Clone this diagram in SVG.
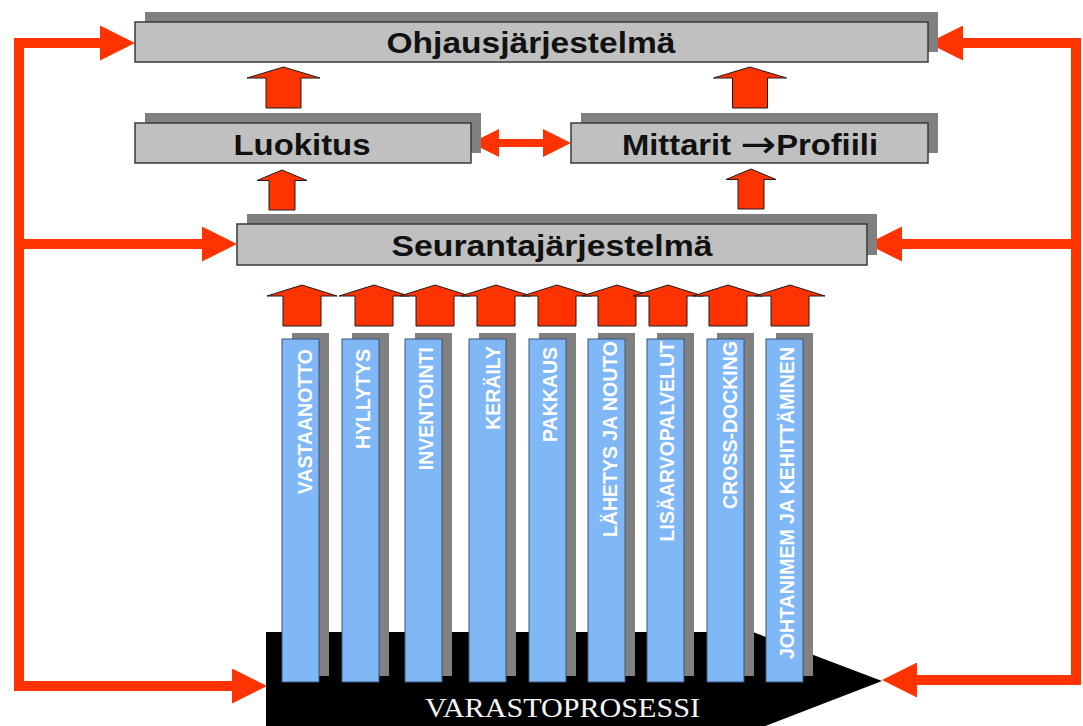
<svg xmlns="http://www.w3.org/2000/svg" width="1083" height="726" viewBox="0 0 1083 726">
<style>
.shadow{fill:#808080}
.box{fill:#c0c0c0;stroke:#3a3a3a;stroke-width:1.5}
.lbl{font-family:"Liberation Sans",Arial,sans-serif;font-weight:bold;font-size:29px;fill:#111;text-anchor:middle}
.sym{font-family:"DejaVu Sans",sans-serif;font-weight:normal;font-size:38px}
.bar{fill:#7fb7f7;stroke:#3e5578;stroke-width:1}
.bartxt{font-family:"Liberation Sans",Arial,sans-serif;font-weight:bold;font-size:19.5px;fill:#ffffff;text-anchor:end}
.blk{fill:#ff3300;stroke:#1a1a1a;stroke-width:1}
.conn{fill:none;stroke:#ff3300;stroke-width:10;stroke-linejoin:miter}
.conn2{fill:none;stroke:#ff3300;stroke-width:8}
</style>
<defs>
<marker id="ah" markerUnits="userSpaceOnUse" viewBox="0 0 35 35" markerWidth="35" markerHeight="35" refX="0" refY="17.5" orient="auto-start-reverse">
<path d="M0,0 L35,17.5 L0,35 Z" fill="#ff3300"/>
</marker>
<marker id="ahs" markerUnits="userSpaceOnUse" viewBox="0 0 28 28" markerWidth="28" markerHeight="28" refX="0" refY="14" orient="auto-start-reverse">
<path d="M0,0 L28,14 L0,28 Z" fill="#ff3300"/>
</marker>
<path id="upBig" d="M0,0 L36.5,11 L17.5,11 L17.5,41 L-17.5,41 L-17.5,11 L-36.5,11 Z"/>
<path id="upMid" d="M0,0 L25,10.5 L13,10.5 L13,40 L-13,40 L-13,10.5 L-25,10.5 Z"/>
<path id="upBar" d="M0,0 L35,11 L19,11 L19,41 L-19,41 L-19,11 L-35,11 Z"/>
</defs>
<rect width="1083" height="726" fill="#ffffff"/>

<g id="connectors">
<path class="conn" d="M100,43 H19 V686 H232" marker-start="url(#ah)" marker-end="url(#ah)"/>
<path class="conn" d="M19,244 H202" marker-end="url(#ah)"/>
<path class="conn" d="M963,43 H1076 V680 H917" marker-start="url(#ah)" marker-end="url(#ah)"/>
<path class="conn" d="M1076,244 H902" marker-end="url(#ah)"/>
<path class="conn2" d="M499,143 H543" marker-start="url(#ahs)" marker-end="url(#ahs)"/>
<use href="#upBig" class="blk" x="283.5" y="67"/>
<use href="#upBig" class="blk" x="750" y="67"/>
<use href="#upMid" class="blk" x="282" y="170"/>
<use href="#upMid" class="blk" x="751" y="169"/>
<use href="#upBar" class="blk" x="302" y="285"/>
<use href="#upBar" class="blk" x="374" y="285"/>
<use href="#upBar" class="blk" x="435" y="285"/>
<use href="#upBar" class="blk" x="496" y="285"/>
<use href="#upBar" class="blk" x="557" y="285"/>
<use href="#upBar" class="blk" x="617" y="285"/>
<use href="#upBar" class="blk" x="668" y="285"/>
<use href="#upBar" class="blk" x="728" y="285"/>
<use href="#upBar" class="blk" x="790" y="285"/>
</g>

<g id="ohjausjarjestelma">
<rect class="shadow" x="145" y="12" width="793" height="40"/>
<rect class="box" x="135" y="22" width="793" height="40"/>
<text class="lbl" x="531" y="53" textLength="289" lengthAdjust="spacingAndGlyphs">Ohjausjärjestelmä</text>
</g>

<g id="luokitus">
<rect class="shadow" x="145" y="113" width="336" height="40"/>
<rect class="box" x="135" y="123" width="336" height="40"/>
<text class="lbl" x="302" y="155" textLength="137" lengthAdjust="spacingAndGlyphs">Luokitus</text>
</g>

<g id="mittarit">
<rect class="shadow" x="581" y="113" width="357" height="40"/>
<rect class="box" x="571" y="123" width="357" height="40"/>
<text class="lbl" x="750" y="155" textLength="256" lengthAdjust="spacingAndGlyphs">Mittarit <tspan class="sym" dy="2">→</tspan><tspan dy="-2">Profiili</tspan></text>
</g>

<g id="seurantajarjestelma">
<rect class="shadow" x="247" y="214" width="630" height="41"/>
<rect class="box" x="237" y="224" width="630" height="41"/>
<text class="lbl" x="552" y="256" textLength="321" lengthAdjust="spacingAndGlyphs">Seurantajärjestelmä</text>
</g>

<g id="varastoprosessi">
<polygon points="266,632 753,632 882,681 755,730 266,730" fill="#000000"/>
<text x="562.5" y="717" font-family="'Liberation Serif','Times New Roman',serif" font-size="27" fill="#f4f4f4" text-anchor="middle" textLength="275" lengthAdjust="spacingAndGlyphs">VARASTOPROSESSI</text>
</g>

<g id="vastaanotto">
<rect class="shadow" x="292" y="333" width="37" height="343"/>
<rect class="bar" x="282" y="339" width="37" height="343"/>
<text class="bartxt" x="312" y="349" transform="rotate(-90 312 349)">VASTAANOTTO</text>
</g>
<g id="hyllytys">
<rect class="shadow" x="352" y="333" width="37" height="343"/>
<rect class="bar" x="342" y="339" width="37" height="343"/>
<text class="bartxt" x="370" y="349" transform="rotate(-90 370 349)">HYLLYTYS</text>
</g>
<g id="inventointi">
<rect class="shadow" x="415" y="333" width="37" height="343"/>
<rect class="bar" x="405" y="339" width="37" height="343"/>
<text class="bartxt" x="433" y="347" transform="rotate(-90 433 347)">INVENTOINTI</text>
</g>
<g id="kerailly">
<rect class="shadow" x="479" y="333" width="37" height="343"/>
<rect class="bar" x="469" y="339" width="37" height="343"/>
<text class="bartxt" x="500" y="346" transform="rotate(-90 500 346)">KERÄILY</text>
</g>
<g id="pakkaus">
<rect class="shadow" x="539" y="333" width="37" height="343"/>
<rect class="bar" x="529" y="339" width="37" height="343"/>
<text class="bartxt" x="557" y="347" transform="rotate(-90 557 347)">PAKKAUS</text>
</g>
<g id="lahetys">
<rect class="shadow" x="598" y="333" width="37" height="343"/>
<rect class="bar" x="588" y="339" width="37" height="343"/>
<text class="bartxt" x="617" y="341" transform="rotate(-90 617 341)">LÄHETYS JA NOUTO</text>
</g>
<g id="lisaarvopalvelut">
<rect class="shadow" x="657" y="333" width="37" height="343"/>
<rect class="bar" x="647" y="339" width="37" height="343"/>
<text class="bartxt" x="674" y="341" transform="rotate(-90 674 341)">LISÄARVOPALVELUT</text>
</g>
<g id="crossdocking">
<rect class="shadow" x="717" y="333" width="37" height="343"/>
<rect class="bar" x="707" y="339" width="37" height="343"/>
<text class="bartxt" x="737" y="341" transform="rotate(-90 737 341)">CROSS-DOCKING</text>
</g>
<g id="johtaminen">
<rect class="shadow" x="776" y="333" width="37" height="343"/>
<rect class="bar" x="766" y="339" width="37" height="343"/>
<text class="bartxt" x="794" y="347" transform="rotate(-90 794 347)">JOHTANIMEM JA KEHITTÄMINEN</text>
</g>
</svg>
